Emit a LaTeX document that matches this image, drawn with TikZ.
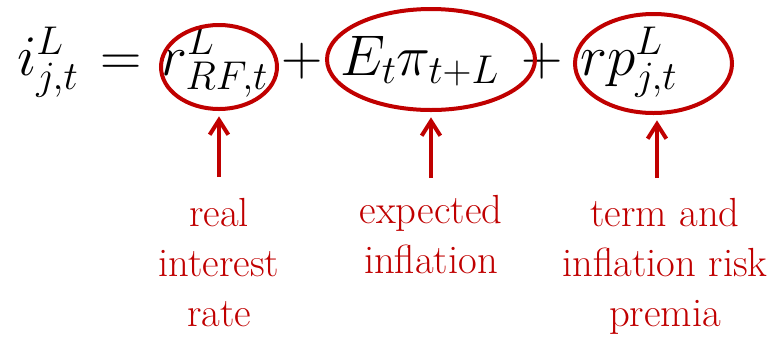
\RequirePackage{fix-cm}
\documentclass[tikz,border=0pt]{standalone}
\usetikzlibrary{shapes.geometric,arrows.meta}
\definecolor{dred}{RGB}{192,0,0}
\begin{document}
\begin{tikzpicture}[x=0.75pt,y=-0.75pt,
  eq/.style={anchor=base west, inner sep=0pt, font=\fontsize{43}{50}\selectfont},
  eqc/.style={eq, anchor=base},
  lab/.style={anchor=north, inner sep=0pt, align=center, text=dred, font=\fontsize{30.5}{37.5}\selectfont},
  ring/.style={draw=dred, line width=3pt, ellipse, inner sep=0pt},
  arr/.style={draw=dred, line width=3pt, -{Straight Barb[length=11pt,width=14pt]}, shorten >=4pt}
]
\useasboundingbox (0,0) rectangle (772,337);
% equation
\node[eq]  (t1) at (17,75)    {$i^{L}_{j,t}$};
\node[eqc] (t2) at (121.5,75) {$=$};
\node[eq]  (t3) at (160,75)   {$r^{L}_{RF,t}$};
\node[eqc] (t4) at (302,75)   {$+$};
\node[eq]  (t5) at (340,75)   {$E_{t}\pi_{t+L}$};
\node[eqc] (t6) at (542,75)   {$+$};
\node[eq]  (t7) at (580,75)   {$rp^{L}_{j,t}$};
% ellipses
\node[ring, minimum width=87pt, minimum height=63pt] (e1) at (219,67) {};
\node[ring, minimum width=156pt, minimum height=75.75pt] (e2) at (431,59.5) {};
\node[ring, minimum width=117.75pt, minimum height=74.25pt] (e3) at (653.5,63.5) {};
% labels
\node[lab] (l1) at (219,198) {real\\interest\\rate};
\node[lab] (l2) at (431,195) {expected\\inflation};
\node[lab] (l3) at (665,198) {term and\\inflation risk\\premia};
% arrows
\coordinate (a1) at (219,177);
\coordinate (a2) at (431,178);
\coordinate (a3) at (657,178);
\draw[arr] (a1) -- (a1 |- e1.south);
\draw[arr] (a2) -- (a2 |- e2.south);
\draw[arr] (a3) -- (a3 |- e3.south);
\end{tikzpicture}
\end{document}
